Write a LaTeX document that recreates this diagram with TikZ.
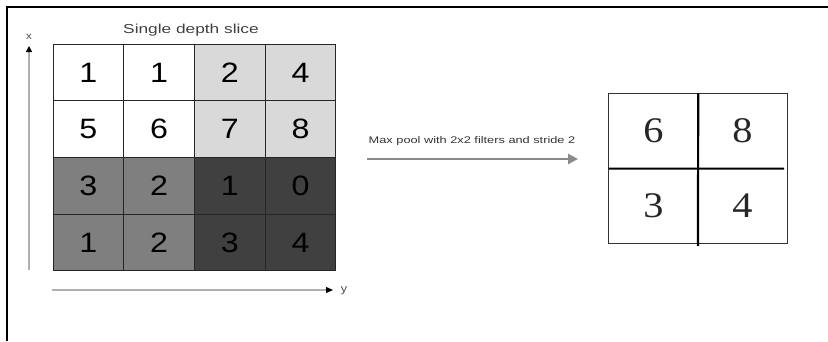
\documentclass[tikz,border=0pt]{standalone}
\usepackage{fontspec}
\setmainfont{Liberation Serif}
\newfontfamily\arial{Liberation Sans}
\newfontfamily\arialdig[FakeStretch=1.15]{Liberation Sans}
\newfontfamily\arialwide[FakeStretch=1.33]{Liberation Sans}
\newfontfamily\timesdig[FakeStretch=1.12]{Liberation Serif}
\usetikzlibrary{arrows.meta}
\definecolor{lgray}{HTML}{D9D9D9}
\definecolor{mgray}{HTML}{7F7F7F}
\definecolor{dgray}{HTML}{404040}
\definecolor{axisgray}{HTML}{B0B0B0}
\definecolor{arrgray}{HTML}{8A8A8A}
\begin{document}
\begin{tikzpicture}[x=1pt,y=-1pt,
  cell/.style={draw=black!85,line width=1pt,minimum width=70.75pt,minimum height=56.75pt,inner sep=0pt,font=\arialdig\fontsize{28}{28}\selectfont,text=black},
  ocell/.style={minimum width=89pt,minimum height=75pt,inner sep=0pt,font=\timesdig\fontsize{36}{36}\selectfont,text=black!85},
  lbl/.style={font=\arialwide\fontsize{13}{13}\selectfont,text=black!75,inner sep=0pt}]
\useasboundingbox (0,0) rectangle (828,341);
% frame
\draw[line width=1.6pt] (828,7) -- (7,7) -- (7,341);
% title
\node[lbl] (title) at (191,30) {Single depth slice};
% left grid
\node[cell,fill=white] (a11) at (88.4,72.4) {1};
\node[cell,fill=white] (a12) at (159.1,72.4) {1};
\node[cell,fill=lgray] (a13) at (229.9,72.4) {2};
\node[cell,fill=lgray] (a14) at (300.6,72.4) {4};
\node[cell,fill=white] (a21) at (88.4,129.1) {5};
\node[cell,fill=white] (a22) at (159.1,129.1) {6};
\node[cell,fill=lgray] (a23) at (229.9,129.1) {7};
\node[cell,fill=lgray] (a24) at (300.6,129.1) {8};
\node[cell,fill=mgray] (a31) at (88.4,185.9) {3};
\node[cell,fill=mgray] (a32) at (159.1,185.9) {2};
\node[cell,fill=dgray] (a33) at (229.9,185.9) {1};
\node[cell,fill=dgray] (a34) at (300.6,185.9) {0};
\node[cell,fill=mgray] (a41) at (88.4,242.6) {1};
\node[cell,fill=mgray] (a42) at (159.1,242.6) {2};
\node[cell,fill=dgray] (a43) at (229.9,242.6) {3};
\node[cell,fill=dgray] (a44) at (300.6,242.6) {4};
% axes
\coordinate (xs) at (29,270);
\coordinate (xe) at (29,46);
\draw[axisgray,line width=1.6pt,-{Triangle[length=6pt,width=6pt,black]}] (xs) -- (xe);
\node[font=\arialdig\fontsize{10}{10}\selectfont,text=black!70] (xl) at (29,37) {x};
\coordinate (ys) at (52,290);
\coordinate (ye) at (333,290);
\draw[axisgray,line width=1.2pt,-{Triangle[length=7pt,width=6pt,black]}] (ys) -- (ye);
\node[font=\arialdig\fontsize{11}{11}\selectfont,text=black!70] (yl) at (344,291) {y};
% middle arrow
\node[font=\arialwide\fontsize{9.6}{9.6}\selectfont,text=black!80,inner sep=0pt] (mtxt) at (472,141) {Max pool with 2x2 filters and stride 2};
\coordinate (ms) at (367,159);
\coordinate (me) at (578,159);
\draw[arrgray,line width=2.6pt,-{Triangle[length=10pt,width=10pt]}] (ms) -- (me);
% output grid
\node[ocell] (b11) at (653.5,131) {6};
\node[ocell] (b12) at (742.5,131) {8};
\node[ocell] (b21) at (653.5,206) {3};
\node[ocell] (b22) at (742.5,206) {4};
\draw[black!80,line width=1.2pt] (b11.north west) rectangle (b22.south east);
\draw[black,line width=2pt] (b11.south west) -- (784,168.5);
\draw[black,line width=2.2pt] (b11.north east) -- (698,246);
\end{tikzpicture}
\end{document}
